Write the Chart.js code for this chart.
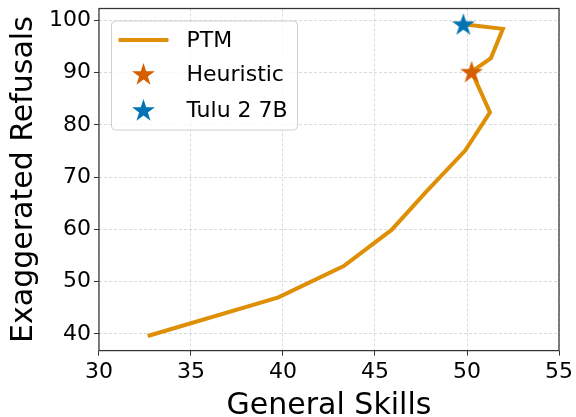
<!DOCTYPE html>
<html>
<head>
<meta charset="utf-8">
<script src="https://cdn.jsdelivr.net/npm/chart.js@4/dist/chart.umd.min.js"></script>
<style>
  html, body { margin: 0; padding: 0; background: #fff; }
  #wrap { width: 576px; height: 417px; }
</style>
</head>
<body>
<div id="wrap"><canvas id="mycanvas"></canvas></div>
<script>
// values
var ptmX = [32.65, 39.75, 43.3, 45.9, 47.8, 49.9, 51.25, 50.25, 51.3, 51.95, 49.8];
var ptmY = [39.6, 47.0, 53.0, 59.9, 67.3, 75.1, 82.4, 90.2, 92.8, 98.4, 99.3];
var heuristicPt = [50.25, 90.2];
var tuluPt = [49.8, 99.3];
var xTicks = [30, 35, 40, 45, 50, 55];
var yTicks = [40, 50, 60, 70, 80, 90, 100];
var labels = ["PTM", "Heuristic", "Tulu 2 7B"];

var lineColor = "#de8f05";
var heurColor = "#d55e00";
var tuluColor = "#0173b2";
var font = "DejaVu Sans";

// filled 5 point star, like matplotlib's '*' marker
function drawStar(ctx, cx, cy, r, color) {
    ctx.save();
    ctx.beginPath();
    for (var i = 0; i < 10; i++) {
        var rr = (i % 2 == 0) ? r : r * 0.382;
        var a = -Math.PI / 2 + i * Math.PI / 5;
        var px = cx + rr * Math.cos(a), py = cy + rr * Math.sin(a);
        if (i == 0) ctx.moveTo(px, py); else ctx.lineTo(px, py);
    }
    ctx.closePath();
    ctx.fillStyle = color;
    ctx.fill();
    ctx.restore();
}
function starImage(color, r) {
    var c = document.createElement("canvas");
    c.width = c.height = Math.ceil(2 * r + 2);
    drawStar(c.getContext("2d"), c.width / 2, c.height / 2 + 1, r, color);
    return c;
}

var ptmData = [];
for (var i in ptmX) {
    ptmData.push({x: ptmX[i], y: ptmY[i]});
}

// frame round the axes plus the boxed legend inside the plot
var framePlugin = {
    id: "frame",
    afterDraw: function(chart) {
        var ctx = chart.ctx, a = chart.chartArea;
        ctx.save();
        ctx.strokeStyle = "#333";
        ctx.lineWidth = 1.25;
        ctx.strokeRect(a.left, a.top, a.right - a.left, a.bottom - a.top);

        // legend
        var bx = a.left + 12.5, by = a.top + 12.5, bw = 186, bh = 109;
        ctx.beginPath();
        ctx.roundRect(bx, by, bw, bh, 4);
        ctx.fillStyle = "rgba(255,255,255,0.8)";
        ctx.fill();
        ctx.strokeStyle = "#d0d0d0";
        ctx.lineWidth = 1;
        ctx.stroke();

        ctx.font = "22px '" + font + "'";
        ctx.fillStyle = "#000";
        ctx.textBaseline = "middle";
        var rowY = [by + 19, by + 53, by + 89];
        ctx.beginPath();
        ctx.moveTo(bx + 7, rowY[0]);
        ctx.lineTo(bx + 57, rowY[0]);
        ctx.strokeStyle = lineColor;
        ctx.lineWidth = 4;
        ctx.stroke();
        drawStar(ctx, bx + 32, rowY[1] + 1, 12, heurColor);
        drawStar(ctx, bx + 32, rowY[2] + 1, 12, tuluColor);
        for (var k = 0; k < 3; k++) {
            ctx.fillText(labels[k], bx + 75, rowY[k] + 1);
        }
        ctx.restore();
    }
};

var ctx = document.getElementById("mycanvas");

var chart = new Chart(ctx, {
    type: "scatter",
    data: {
        datasets: [
            {
                label: labels[0],
                data: ptmData,
                showLine: true,
                borderColor: lineColor,
                backgroundColor: lineColor,
                borderWidth: 4,
                pointRadius: 0,
                tension: 0,
                order: 3
            },
            {
                label: labels[1],
                data: [{x: heuristicPt[0], y: heuristicPt[1]}],
                pointStyle: starImage(heurColor, 12),
                order: 2
            },
            {
                label: labels[2],
                data: [{x: tuluPt[0], y: tuluPt[1]}],
                pointStyle: starImage(tuluColor, 12),
                order: 1
            }
        ]
    },
    options: {
        responsive: true,
        maintainAspectRatio: false,
        animation: false,
        layout: { padding: { top: 4, right: 16, left: 6, bottom: -7 } },
        plugins: {
            legend: { display: false },
            tooltip: { enabled: false }
        },
        scales: {
            x: {
                type: "linear",
                min: 30,
                max: 55,
                afterBuildTicks: function(axis) {
                    axis.ticks = xTicks.map(function(v) { return {value: v}; });
                },
                ticks: {
                    color: "#000",
                    font: { family: font, size: 22 },
                    padding: 3,
                    maxRotation: 0
                },
                grid: {
                    color: "rgba(176,176,176,0.6)",
                    lineWidth: 0.8,
                    tickColor: "#333",
                    tickLength: 5,
                    tickWidth: 1
                },
                border: { display: false, dash: [3, 2] },
                title: {
                    display: true,
                    text: "General Skills",
                    color: "#000",
                    font: { family: font, size: 30 },
                    padding: { top: 0, bottom: 0 }
                }
            },
            y: {
                type: "linear",
                min: 36.8,
                max: 102.3,
                afterBuildTicks: function(axis) {
                    axis.ticks = yTicks.map(function(v) { return {value: v}; });
                },
                ticks: {
                    color: "#000",
                    font: { family: font, size: 22, lineHeight: 0.5 },
                    padding: 3
                },
                grid: {
                    color: "rgba(176,176,176,0.6)",
                    lineWidth: 0.8,
                    tickColor: "#333",
                    tickLength: 5,
                    tickWidth: 1
                },
                border: { display: false, dash: [3, 2] },
                title: {
                    display: true,
                    text: "Exaggerated Refusals",
                    color: "#000",
                    font: { family: font, size: 30 },
                    padding: { top: 0, bottom: 4 }
                }
            }
        }
    },
    plugins: [framePlugin]
});
</script>
</body>
</html>
